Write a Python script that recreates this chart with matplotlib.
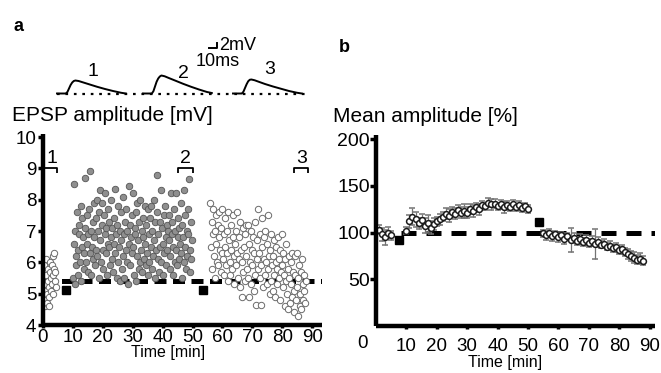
import matplotlib.pyplot as plt
import numpy as np

plt.rcParams['font.family'] = ['Liberation Sans', 'DejaVu Sans']

# ---------------- data ----------------
# panel a: single EPSP amplitudes [mV], sampled every dt minutes
base_t0, base_dt = 0.2, 0.15
base_amp = [5.3, 4.8, 5.9, 5.1, 4.6, 5.6, 6.1, 5.0, 4.7, 5.4, 5.8, 4.9, 5.2, 4.6,
            5.7, 6.0, 5.5, 5.1, 5.9, 5.3, 6.2, 5.6, 5.0, 5.8, 6.3, 5.4, 5.7, 5.2]

post_t0, post_dt = 10.0, 0.2
post_amp = [5.5, 6.6, 8.5, 5.3, 7.0, 6.2, 5.9, 7.6, 6.4, 5.6, 6.9, 7.2, 6.0, 7.8, 5.4, 6.5, 7.4, 6.8, 5.8, 6.3,
            7.1, 8.7, 6.0, 6.6, 7.5, 5.7, 6.9, 7.7, 6.3, 8.9, 5.6, 7.0, 6.5, 7.3, 6.1, 7.9, 6.8, 5.9, 7.4, 6.4,
            8.0, 6.2, 7.0, 5.5, 7.6, 8.3, 6.7, 6.0, 7.2, 7.9, 6.4, 5.8, 7.5, 6.9, 8.2, 6.3, 7.1, 5.6, 6.6, 7.7,
            6.5, 7.3, 5.9, 6.8, 8.0, 6.1, 7.1, 5.7, 6.6, 7.4, 6.3, 8.35, 6.9, 5.5, 7.2, 6.0, 7.8, 6.5, 5.4, 7.0,
            6.7, 7.6, 5.8, 6.2, 8.1, 6.9, 5.5, 7.3, 6.4, 7.7, 6.0, 7.0, 5.3, 6.6, 8.45, 7.2, 5.9, 6.8, 7.5, 6.3,
            8.2, 6.5, 5.6, 7.1, 6.9, 5.4, 7.6, 6.2, 7.9, 6.7, 5.8, 7.3, 6.0, 8.0, 6.4, 7.0, 5.7, 6.8, 7.4, 6.1,
            7.8, 6.6, 5.9, 7.2, 6.3, 7.7, 5.6, 6.9, 6.0, 7.4, 6.5, 7.8, 5.8, 7.0, 6.2, 8.0, 6.7, 5.5, 7.3, 6.4,
            7.6, 8.8, 6.1, 6.9, 5.7, 7.3, 6.5, 8.3, 6.0, 7.1, 6.6, 5.6, 7.5, 6.3, 7.8, 6.8, 5.9, 7.2, 6.4, 7.0,
            6.7, 7.5, 5.8, 6.2, 8.2, 6.9, 7.3, 5.6, 6.5, 7.7, 6.0, 7.0, 6.4, 8.2, 5.9, 6.8, 7.4, 6.1, 7.1, 6.6,
            7.9, 6.3, 5.5, 7.2, 6.8, 8.3, 6.0, 7.5, 6.5, 5.8, 7.0, 6.2, 7.7, 6.9, 8.65, 6.4, 5.7, 7.3, 6.1, 6.7]

ltd_t0, ltd_dt = 56.0, 0.2
ltd_amp = [7.9, 6.5, 7.3, 5.8, 6.9, 7.7, 6.2, 5.5, 7.0, 6.6, 7.5, 6.0, 7.2, 5.9, 6.8, 7.6, 6.4, 5.7, 7.1, 6.3,
           7.7, 6.1, 5.6, 6.9, 7.4, 6.5, 5.9, 7.0, 6.3, 5.4, 7.6, 6.7, 6.0, 5.6, 7.2, 6.4, 5.8, 6.8, 7.5, 6.2,
           5.3, 6.6, 7.0, 5.9, 6.3, 7.6, 5.5, 6.1, 6.8, 5.2, 7.3, 6.4, 4.9, 6.0, 7.1, 5.7, 6.5, 5.4, 6.9, 7.2,
           6.2, 5.8, 7.2, 5.5, 6.6, 4.9, 6.0, 7.0, 5.3, 6.4, 5.9, 6.8, 5.1, 6.3, 7.3, 5.6, 4.65, 6.1, 6.7, 5.8,
           7.7, 6.3, 5.5, 6.9, 5.9, 4.65, 6.5, 7.4, 5.2, 6.1, 6.8, 5.6, 7.0, 6.0, 5.3, 6.6, 7.5, 5.8, 6.2, 5.0,
           6.4, 5.4, 6.9, 5.9, 5.1, 6.2, 6.7, 5.6, 4.9, 6.0, 6.5, 5.3, 5.8, 6.8, 5.5, 6.1, 4.8, 6.4, 5.7, 6.9,
           5.9, 5.2, 6.3, 5.6, 4.6, 6.1, 5.4, 6.6, 5.0, 5.8, 4.5, 6.2, 5.5, 4.7, 6.0, 5.3, 6.3, 4.9, 5.7, 5.1,
           4.4, 5.6, 6.2, 4.8, 5.2, 6.3, 4.3, 5.5, 5.9, 4.6, 5.0, 5.7, 4.5, 6.1, 5.3, 4.8, 5.6, 5.1, 4.7, 5.4]

stim_t = [7.6, 53.5]          # conditioning episodes
stim_amp_a = [5.12, 5.12]
stim_amp_b = [92, 111]
baseline_mv = 5.4
baseline_pct = 100
windows = [(0, 4.7), (45, 50), (84, 88.7)]
window_labels = ['1', '2', '3']

# panel b: 1-min means [%] +- SEM
pre_t = [1, 2, 3, 4, 5]
pre_mean = [103, 98, 95, 100, 97]
pre_err = [5, 7, 8, 6, 5]

ltp_t = list(range(10, 51))
ltp_mean = [102, 112, 117, 114, 110, 113, 107, 110, 105, 109, 112, 114, 117, 120, 118,
            122, 120, 124, 121, 123, 121, 125, 123, 127, 125, 129, 128, 132, 130, 131,
            128, 130, 127, 129, 127, 130, 127, 129, 126, 128, 125]
ltp_err = [4, 7, 9, 8, 6, 7, 8, 9, 7, 6, 5, 6, 5, 6, 7, 5, 6, 5, 6, 7, 6, 5, 6, 5, 6,
           5, 4, 5, 6, 5, 4, 5, 6, 5, 4, 5, 4, 5, 4, 4, 4]

ltd_t = list(range(55, 89))
ltd_mean = [99, 97, 100, 96, 98, 95, 97, 93, 96, 92, 94, 91, 93, 90, 92, 89, 91, 88,
            90, 87, 88, 85, 86, 83, 84, 81, 82, 79, 77, 75, 73, 71, 72, 70]
ltd_err = [4, 5, 4, 5, 4, 5, 4, 5, 4, 13, 5, 4, 5, 4, 5, 4, 5, 16, 5, 4, 5, 4, 5, 4,
           5, 4, 5, 4, 5, 5, 6, 5, 6, 5]

# sample EPSP traces (time in ms after sweep onset, mV above rest)
trace_t = [0, 11, 13, 15, 17, 19, 21, 23, 27, 33, 40, 50, 60, 70, 80, 86]
trace_v1 = [0, 0, 0.6, 2.0, 3.4, 4.4, 5.0, 5.2, 5.0, 4.4, 3.7, 2.7, 1.8, 1.0, 0.3, 0.0]
trace_v2 = [0, 0, 0.9, 2.8, 4.7, 6.0, 6.8, 7.2, 6.9, 6.1, 5.2, 3.9, 2.7, 1.6, 0.6, 0.2]
trace_v3 = [0, 0, 0.7, 2.2, 3.7, 4.9, 5.5, 5.6, 5.3, 4.6, 3.8, 2.8, 1.9, 1.0, 0.3, 0.0]
trace_onset = [8.75, 116.25, 228.75]

W, H = 661, 373


def frac(x0, y0, x1, y1):
    # pixel box (top-left origin) -> figure fraction rect
    return [x0 / W, 1 - y1 / H, (x1 - x0) / W, (y1 - y0) / H]


def style_axes(ax):
    for s in ['top', 'right']:
        ax.spines[s].set_visible(False)
    for s in ['left', 'bottom']:
        ax.spines[s].set_linewidth(3.2)
        ax.spines[s].set_capstyle('butt')


fig = plt.figure(figsize=(W / 100, H / 100), dpi=100)

# ---------------- panel a ----------------
ax = fig.add_axes(frac(43, 133.9, 322, 325))
style_axes(ax)

tb = base_t0 + base_dt * np.arange(len(base_amp))
tp = post_t0 + post_dt * np.arange(len(post_amp))
tl = ltd_t0 + ltd_dt * np.arange(len(ltd_amp))

ax.plot([0, 93.3], [baseline_mv] * 2, color='black', lw=3.6,
        dashes=(2.4, 1.3), zorder=1)
ax.scatter(tb, base_amp, s=21, facecolor='white', edgecolor='0.42', lw=0.7, zorder=2)
ax.scatter(tp, post_amp, s=22, facecolor='0.56', edgecolor='0.33', lw=0.6, zorder=2)
ax.scatter(tl, ltd_amp, s=21, facecolor='white', edgecolor='0.42', lw=0.7, zorder=2)
ax.plot(stim_t, stim_amp_a, 's', color='black', ms=5.8, zorder=3)

for (w0, w1), lab in zip(windows, window_labels):
    ax.plot([w0, w0, w1, w1], [8.85, 9.0, 9.0, 8.85], color='black', lw=1.3,
            solid_capstyle='butt', clip_on=False)
    ax.text((w0 + w1) / 2 + (0.6 if w0 == 0 else 0), 9.05, lab, ha='center',
            va='bottom', fontsize=14)

ax.set_xlim(0, 93.3)
ax.set_ylim(4, 10.1)
ax.set_xticks(range(0, 91, 10))
ax.set_yticks(range(4, 11))
ax.tick_params(axis='x', length=2.5, width=2.5, pad=0.5, labelsize=13.5)
ax.tick_params(axis='y', length=3.8, width=2.5, pad=1.0, labelsize=13.5)

fig.text(168 / W, 1 - 352 / H, 'Time [min]', ha='center', va='center', fontsize=11.5)
fig.text(12 / W, 1 - 115.5 / H, 'EPSP amplitude [mV]', ha='left', va='center', fontsize=15)
fig.text(13 / W, 1 - 31 / H, 'a', ha='left', va='baseline', fontsize=13, fontweight='bold')

# ---------------- inset traces ----------------
axt = fig.add_axes(frac(50, 35, 320, 100))
axt.axis('off')
axt.set_xlim(0, 337.5)
axt.set_ylim(-2.6, 23.4)
axt.plot([trace_onset[0], trace_onset[2] + 90], [0, 0], color='black', lw=1.6,
         linestyle=(0, (1.2, 2.6)))
for on, v in zip(trace_onset, [trace_v1, trace_v2, trace_v3]):
    axt.plot(np.array(trace_t) + on, v, color='black', lw=1.4)
# scale bar 10 ms / 2 mV
axt.plot([198.75, 208.75, 208.75], [18.1, 18.1, 20.1], color='black', lw=1.4)
fig.text(219 / W, 1 - 46 / H, '2mV', ha='left', va='center', fontsize=13)
fig.text(218 / W, 1 - 61 / H, '10ms', ha='center', va='center', fontsize=13)
for x, y, lab in [(93, 72, '1'), (183, 73, '2'), (270, 70, '3')]:
    fig.text(x / W, 1 - y / H, lab, ha='center', va='center', fontsize=14)

# ---------------- panel b ----------------
bx = fig.add_axes(frac(376, 135.3, 655, 326))
style_axes(bx)
bx.plot([8.3, 92], [baseline_pct] * 2, color='black', lw=3.6,
        dashes=(3.0, 2.0), zorder=1)
for t, m, e in [(pre_t, pre_mean, pre_err), (ltp_t, ltp_mean, ltp_err),
                (ltd_t, ltd_mean, ltd_err)]:
    bx.errorbar(t, m, yerr=e, fmt='o', mfc='white', mec='0.1', mew=1.1, ms=4.2,
                ecolor='0.45', elinewidth=0.9, capsize=2, capthick=0.9, zorder=2)
bx.plot(stim_t, stim_amp_b, 's', color='black', ms=5.8, zorder=3)
bx.set_xlim(0, 91.8)
bx.set_ylim(0, 204)
bx.set_xticks(range(10, 91, 10))
bx.set_yticks([50, 100, 150, 200])
bx.tick_params(axis='x', length=2.5, width=2.5, pad=6, labelsize=13.5)
bx.tick_params(axis='y', length=4, width=2.5, pad=0.5, labelsize=14)
fig.text(362 / W, 1 - 343 / H, '0', ha='center', va='center', fontsize=13.5)
fig.text(505 / W, 1 - 362.5 / H, 'Time [min]', ha='center', va='center', fontsize=11.5)
fig.text(333 / W, 1 - 116 / H, 'Mean amplitude [%]', ha='left', va='center', fontsize=15)
fig.text(339 / W, 1 - 52 / H, 'b', ha='left', va='baseline', fontsize=13, fontweight='bold')

fig.savefig('out.png', dpi=100)
